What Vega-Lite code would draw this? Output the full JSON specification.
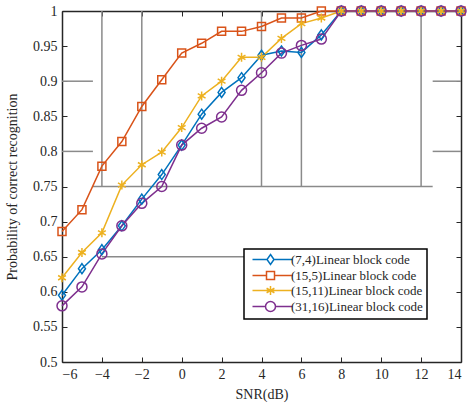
{
  "$schema": "https://vega.github.io/schema/vega-lite/v6.json",
  "width": 399,
  "height": 351,
  "autosize": {"type": "none"},
  "padding": {"left": 62, "top": 11, "right": 13, "bottom": 47},
  "background": "white",
  "config": {
    "view": {"stroke": null},
    "font": "Liberation Serif",
    "axis": {
      "labelFont": "Liberation Serif",
      "labelFontSize": 14,
      "labelColor": "#262626",
      "titleFont": "Liberation Serif",
      "titleFontSize": 14,
      "titleFontWeight": "normal",
      "titleColor": "#262626",
      "domainColor": "#262626",
      "domainWidth": 1.5,
      "tickColor": "#262626",
      "tickWidth": 1,
      "tickSize": -5,
      "labelPadding": 10,
      "grid": false
    }
  },
  "datasets": {
    "curves": [
      {"snr": -6, "prob": 0.595, "code": "(7,4)Linear block code"},
      {"snr": -5, "prob": 0.633, "code": "(7,4)Linear block code"},
      {"snr": -4, "prob": 0.660, "code": "(7,4)Linear block code"},
      {"snr": -3, "prob": 0.694, "code": "(7,4)Linear block code"},
      {"snr": -2, "prob": 0.732, "code": "(7,4)Linear block code"},
      {"snr": -1, "prob": 0.767, "code": "(7,4)Linear block code"},
      {"snr": 0, "prob": 0.809, "code": "(7,4)Linear block code"},
      {"snr": 1, "prob": 0.853, "code": "(7,4)Linear block code"},
      {"snr": 2, "prob": 0.884, "code": "(7,4)Linear block code"},
      {"snr": 3, "prob": 0.905, "code": "(7,4)Linear block code"},
      {"snr": 4, "prob": 0.937, "code": "(7,4)Linear block code"},
      {"snr": 5, "prob": 0.943, "code": "(7,4)Linear block code"},
      {"snr": 6, "prob": 0.941, "code": "(7,4)Linear block code"},
      {"snr": 7, "prob": 0.966, "code": "(7,4)Linear block code"},
      {"snr": 8, "prob": 1, "code": "(7,4)Linear block code"},
      {"snr": 9, "prob": 1, "code": "(7,4)Linear block code"},
      {"snr": 10, "prob": 1, "code": "(7,4)Linear block code"},
      {"snr": 11, "prob": 1, "code": "(7,4)Linear block code"},
      {"snr": 12, "prob": 1, "code": "(7,4)Linear block code"},
      {"snr": 13, "prob": 1, "code": "(7,4)Linear block code"},
      {"snr": 14, "prob": 1, "code": "(7,4)Linear block code"},
      {"snr": -6, "prob": 0.686, "code": "(15,5)Linear block code"},
      {"snr": -5, "prob": 0.717, "code": "(15,5)Linear block code"},
      {"snr": -4, "prob": 0.779, "code": "(15,5)Linear block code"},
      {"snr": -3, "prob": 0.814, "code": "(15,5)Linear block code"},
      {"snr": -2, "prob": 0.864, "code": "(15,5)Linear block code"},
      {"snr": -1, "prob": 0.902, "code": "(15,5)Linear block code"},
      {"snr": 0, "prob": 0.940, "code": "(15,5)Linear block code"},
      {"snr": 1, "prob": 0.954, "code": "(15,5)Linear block code"},
      {"snr": 2, "prob": 0.971, "code": "(15,5)Linear block code"},
      {"snr": 3, "prob": 0.971, "code": "(15,5)Linear block code"},
      {"snr": 4, "prob": 0.978, "code": "(15,5)Linear block code"},
      {"snr": 5, "prob": 0.990, "code": "(15,5)Linear block code"},
      {"snr": 6, "prob": 0.990, "code": "(15,5)Linear block code"},
      {"snr": 7, "prob": 1, "code": "(15,5)Linear block code"},
      {"snr": 8, "prob": 1, "code": "(15,5)Linear block code"},
      {"snr": 9, "prob": 1, "code": "(15,5)Linear block code"},
      {"snr": 10, "prob": 1, "code": "(15,5)Linear block code"},
      {"snr": 11, "prob": 1, "code": "(15,5)Linear block code"},
      {"snr": 12, "prob": 1, "code": "(15,5)Linear block code"},
      {"snr": 13, "prob": 1, "code": "(15,5)Linear block code"},
      {"snr": 14, "prob": 1, "code": "(15,5)Linear block code"},
      {"snr": -6, "prob": 0.620, "code": "(15,11)Linear block code"},
      {"snr": -5, "prob": 0.656, "code": "(15,11)Linear block code"},
      {"snr": -4, "prob": 0.684, "code": "(15,11)Linear block code"},
      {"snr": -3, "prob": 0.752, "code": "(15,11)Linear block code"},
      {"snr": -2, "prob": 0.781, "code": "(15,11)Linear block code"},
      {"snr": -1, "prob": 0.799, "code": "(15,11)Linear block code"},
      {"snr": 0, "prob": 0.834, "code": "(15,11)Linear block code"},
      {"snr": 1, "prob": 0.879, "code": "(15,11)Linear block code"},
      {"snr": 2, "prob": 0.900, "code": "(15,11)Linear block code"},
      {"snr": 3, "prob": 0.934, "code": "(15,11)Linear block code"},
      {"snr": 4, "prob": 0.934, "code": "(15,11)Linear block code"},
      {"snr": 5, "prob": 0.961, "code": "(15,11)Linear block code"},
      {"snr": 6, "prob": 0.982, "code": "(15,11)Linear block code"},
      {"snr": 7, "prob": 0.990, "code": "(15,11)Linear block code"},
      {"snr": 8, "prob": 1, "code": "(15,11)Linear block code"},
      {"snr": 9, "prob": 1, "code": "(15,11)Linear block code"},
      {"snr": 10, "prob": 1, "code": "(15,11)Linear block code"},
      {"snr": 11, "prob": 1, "code": "(15,11)Linear block code"},
      {"snr": 12, "prob": 1, "code": "(15,11)Linear block code"},
      {"snr": 13, "prob": 1, "code": "(15,11)Linear block code"},
      {"snr": 14, "prob": 1, "code": "(15,11)Linear block code"},
      {"snr": -6, "prob": 0.580, "code": "(31,16)Linear block code"},
      {"snr": -5, "prob": 0.607, "code": "(31,16)Linear block code"},
      {"snr": -4, "prob": 0.654, "code": "(31,16)Linear block code"},
      {"snr": -3, "prob": 0.694, "code": "(31,16)Linear block code"},
      {"snr": -2, "prob": 0.726, "code": "(31,16)Linear block code"},
      {"snr": -1, "prob": 0.750, "code": "(31,16)Linear block code"},
      {"snr": 0, "prob": 0.809, "code": "(31,16)Linear block code"},
      {"snr": 1, "prob": 0.833, "code": "(31,16)Linear block code"},
      {"snr": 2, "prob": 0.849, "code": "(31,16)Linear block code"},
      {"snr": 3, "prob": 0.887, "code": "(31,16)Linear block code"},
      {"snr": 4, "prob": 0.912, "code": "(31,16)Linear block code"},
      {"snr": 5, "prob": 0.940, "code": "(31,16)Linear block code"},
      {"snr": 6, "prob": 0.951, "code": "(31,16)Linear block code"},
      {"snr": 7, "prob": 0.960, "code": "(31,16)Linear block code"},
      {"snr": 8, "prob": 1, "code": "(31,16)Linear block code"},
      {"snr": 9, "prob": 1, "code": "(31,16)Linear block code"},
      {"snr": 10, "prob": 1, "code": "(31,16)Linear block code"},
      {"snr": 11, "prob": 1, "code": "(31,16)Linear block code"},
      {"snr": 12, "prob": 1, "code": "(31,16)Linear block code"},
      {"snr": 13, "prob": 1, "code": "(31,16)Linear block code"},
      {"snr": 14, "prob": 1, "code": "(31,16)Linear block code"}
    ],
    "hlines": [
      {"y": 0.9, "x1": -6, "x2": -4.45},
      {"y": 0.8, "x1": -6, "x2": -4.45},
      {"y": 0.9, "x1": 12.58, "x2": 14},
      {"y": 0.8, "x1": 12.58, "x2": 14},
      {"y": 0.75, "x1": -4.45, "x2": 12.58},
      {"y": 0.65, "x1": -4, "x2": 8}
    ],
    "vlines": [
      {"x": -4, "y1": 0.75, "y2": 1},
      {"x": -2, "y1": 0.75, "y2": 1},
      {"x": 4, "y1": 0.75, "y2": 1},
      {"x": 6, "y1": 0.75, "y2": 1},
      {"x": 12, "y1": 0.75, "y2": 1}
    ]
  },
  "resolve": {"axis": {"x": "independent", "y": "independent"}},
  "layer": [
    {
      "data": {"name": "hlines"},
      "mark": {"type": "rule", "color": "#8a8a8a", "strokeWidth": 1.5},
      "encoding": {
        "x": {"field": "x1", "type": "quantitative", "scale": {"domain": [-6, 14]}, "axis": null},
        "x2": {"field": "x2"},
        "y": {"field": "y", "type": "quantitative", "scale": {"domain": [0.5, 1]}, "axis": null}
      }
    },
    {
      "data": {"name": "vlines"},
      "mark": {"type": "rule", "color": "#8a8a8a", "strokeWidth": 1.5},
      "encoding": {
        "x": {
          "field": "x", "type": "quantitative",
          "axis": {"orient": "top", "labels": false, "title": null, "values": [-6, -4, -2, 0, 2, 4, 6, 8, 10, 12, 14]}
        },
        "y": {
          "field": "y1", "type": "quantitative",
          "axis": {"orient": "right", "labels": false, "title": null, "values": [0.5, 0.55, 0.6, 0.65, 0.7, 0.75, 0.8, 0.85, 0.9, 0.95, 1]}
        },
        "y2": {"field": "y2"}
      }
    },
    {
      "data": {"name": "curves"},
      "mark": {"type": "line", "strokeWidth": 1.5},
      "encoding": {
        "x": {
          "field": "snr", "type": "quantitative",
          "axis": {"orient": "bottom", "title": "SNR(dB)", "titlePadding": 6, "values": [-6, -4, -2, 0, 2, 4, 6, 8, 10, 12, 14]}
        },
        "y": {
          "field": "prob", "type": "quantitative",
          "axis": {"orient": "left", "title": "Probability of correct recognition", "titlePadding": 13, "format": ".2~f", "values": [0.5, 0.55, 0.6, 0.65, 0.7, 0.75, 0.8, 0.85, 0.9, 0.95, 1]}
        },
        "color": {
          "field": "code", "type": "nominal",
          "scale": {
            "domain": ["(7,4)Linear block code", "(15,5)Linear block code", "(15,11)Linear block code", "(31,16)Linear block code"],
            "range": ["#0072BD", "#D95319", "#EDB120", "#7E2F8E"]
          },
          "legend": {
            "title": null,
            "orient": "none",
            "legendX": 182,
            "legendY": 238,
            "fillColor": "white",
            "strokeColor": "black",
            "padding": 4,
            "labelFont": "Liberation Serif",
            "labelFontSize": 13,
            "labelColor": "#262626",
            "labelOffset": 30,
            "rowPadding": 0,
            "symbolSize": 100,
            "symbolStrokeWidth": 1.5,
            "encoding": {
              "legend": {"strokeWidth": {"value": 1.5}},
              "symbols": {
                "fill": {"value": "transparent"},
                "shape": {"value": {"expr": "datum.value === '(7,4)Linear block code' ? 'M-0.4,0L2.5,0M3.9,0L7.6,0M3.2,-1L3.9,0L3.2,1L2.5,0Z' : datum.value === '(15,5)Linear block code' ? 'M-0.4,0L2.4,0M4,0L7.6,0M2.4,-0.8L4,-0.8L4,0.8L2.4,0.8Z' : datum.value === '(15,11)Linear block code' ? 'M-0.4,0L7.6,0M3.2,-0.9L3.2,0.9M2.42,-0.45L3.98,0.45M2.42,0.45L3.98,-0.45' : 'M-0.4,0L2.2,0M4.2,0L7.6,0M4.2,0A1,1 0 1,1 2.2,0A1,1 0 1,1 4.2,0'"}}
              }
            }
          }
        }
      }
    },
    {
      "data": {"name": "curves"},
      "transform": [{"filter": "datum.code === '(7,4)Linear block code'"}],
      "mark": {"type": "point", "filled": false, "size": 100, "strokeWidth": 1.5, "opacity": 1, "color": "#0072BD", "shape": "M0,-1L0.7,0L0,1L-0.7,0Z"},
      "encoding": {
        "x": {"field": "snr", "type": "quantitative", "axis": null},
        "y": {"field": "prob", "type": "quantitative", "axis": null}
      }
    },
    {
      "data": {"name": "curves"},
      "transform": [{"filter": "datum.code === '(15,5)Linear block code'"}],
      "mark": {"type": "point", "filled": false, "size": 100, "strokeWidth": 1.5, "opacity": 1, "color": "#D95319", "shape": "M-0.8,-0.8L0.8,-0.8L0.8,0.8L-0.8,0.8Z"},
      "encoding": {
        "x": {"field": "snr", "type": "quantitative", "axis": null},
        "y": {"field": "prob", "type": "quantitative", "axis": null}
      }
    },
    {
      "data": {"name": "curves"},
      "transform": [{"filter": "datum.code === '(15,11)Linear block code'"}],
      "mark": {"type": "point", "filled": false, "size": 100, "strokeWidth": 1.5, "opacity": 1, "color": "#EDB120", "shape": "M0,-0.9L0,0.9M-0.78,-0.45L0.78,0.45M-0.78,0.45L0.78,-0.45"},
      "encoding": {
        "x": {"field": "snr", "type": "quantitative", "axis": null},
        "y": {"field": "prob", "type": "quantitative", "axis": null}
      }
    },
    {
      "data": {"name": "curves"},
      "transform": [{"filter": "datum.code === '(31,16)Linear block code'"}],
      "mark": {"type": "point", "filled": false, "size": 100, "strokeWidth": 1.5, "opacity": 1, "color": "#7E2F8E", "shape": "M1,0A1,1 0 1,1 -1,0A1,1 0 1,1 1,0"},
      "encoding": {
        "x": {"field": "snr", "type": "quantitative", "axis": null},
        "y": {"field": "prob", "type": "quantitative", "axis": null}
      }
    }
  ]
}
